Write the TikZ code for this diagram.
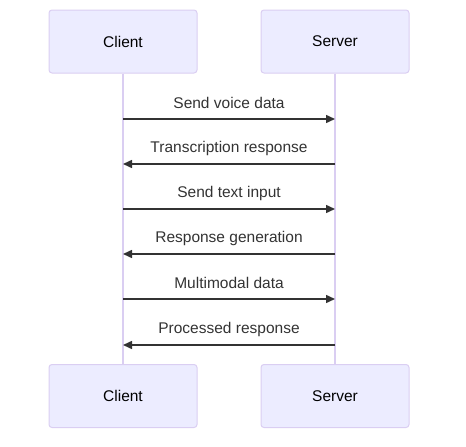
\documentclass[tikz,border=0pt]{standalone}
\usepackage{fontspec}
\setmainfont{Liberation Sans}
\usepackage{xcolor}
\usetikzlibrary{arrows.meta}

\definecolor{actorfill}{HTML}{ECECFF}
\definecolor{actorline}{HTML}{DACEF2}
\definecolor{msgline}{HTML}{333333}

\begin{document}
\begin{tikzpicture}[x=1pt, y=-1pt,
    font=\fontsize{15.5}{18}\selectfont,
    actor/.style={draw=actorline, fill=actorfill, line width=1pt, rounded corners=3pt,
        minimum width=148pt, minimum height=63pt, text=black},
    lifeline/.style={draw=actorline, line width=1.5pt},
    msg/.style={draw=msgline, line width=1.5pt, -{Triangle[length=9pt,width=8pt]}},
    msglabel/.style={midway, yshift=16pt, text=msgline}]
    \useasboundingbox (0,0) rectangle (466,447);

    % participants
    \node[actor] (clientTop) at (123,41.5) {Client};
    \node[actor] (serverTop) at (335,41.5) {Server};
    \node[actor] (clientBot) at (123,396) {Client};
    \node[actor] (serverBot) at (335,396) {Server};

    \draw[lifeline] (clientTop) -- (clientBot);
    \draw[lifeline] (serverTop) -- (serverBot);

    % messages
    \foreach \y/\from/\to/\txt in {119/c/s/Send voice data,
        164/s/c/Transcription response,
        209/c/s/Send text input,
        254/s/c/Response generation,
        299/c/s/Multimodal data,
        345/s/c/Processed response} {
        \coordinate (c\y) at (123,\y);
        \coordinate (s\y) at (335,\y);
        \draw[msg] (\from\y) -- node[msglabel] (m\y) {\txt} (\to\y);
    }
\end{tikzpicture}
\end{document}
